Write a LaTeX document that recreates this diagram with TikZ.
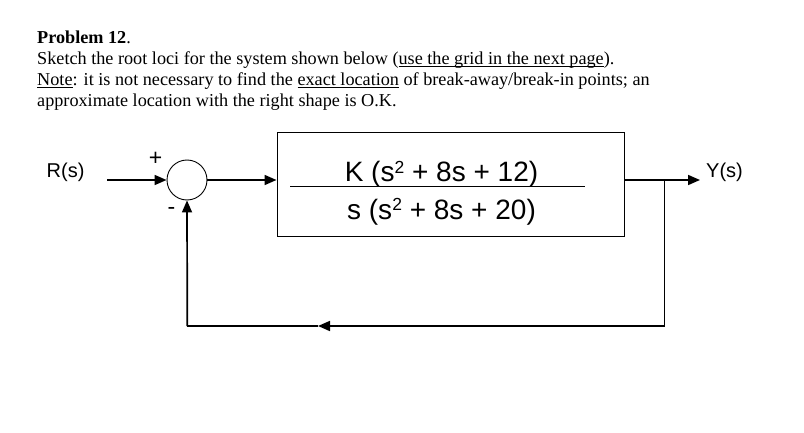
\documentclass[tikz,border=0pt]{standalone}
\usepackage{fontspec}
\setmainfont{Liberation Serif}
\newfontfamily\arialf{Liberation Sans}
\usetikzlibrary{arrows.meta}
\newsavebox{\ulbox}
\newcommand{\myul}[1]{\sbox{\ulbox}{#1}\rlap{\rule[-2.4pt]{\wd\ulbox}{0.9pt}}\usebox{\ulbox}}
\newcommand{\supt}{\raisebox{8.5pt}{\fontsize{17.5}{18}\selectfont 2}}
\begin{document}
\begin{tikzpicture}[x=1pt,y=-1pt,
  txt/.style={anchor=base west,inner sep=0pt,font=\fontsize{18.2}{21}\selectfont},
  lbl/.style={inner sep=0pt,font=\arialf\fontsize{20}{24}\selectfont},
  sign/.style={inner sep=0pt,font=\arialf\fontsize{23}{24}\selectfont},
  frac/.style={anchor=base,inner sep=0pt,font=\arialf\fontsize{28}{32}\selectfont},
  conn/.style={line width=1.7pt,-{Triangle[length=12pt,width=10pt]}},
  thinconn/.style={line width=1.1pt},
  blockbox/.style={draw,line width=1pt,minimum width=347pt,minimum height=104pt,inner sep=0pt},
  sumc/.style={draw,circle,line width=0.9pt,minimum size=40pt,inner sep=0pt}]
\useasboundingbox (0,0) rectangle (804,433);
% text
\node[txt] (l1) at (37,43.5) {\textbf{Problem 12}.};
\node[txt] (l2) at (37,64.5) {Sketch the root loci for the system shown below (\myul{use the grid in the next page}).};
\node[txt] (l3) at (37,85.5) {\myul{Note}: it is not necessary to find the \myul{exact location} of break-away/break-in points; an};
\node[txt] (l4) at (37,106.5) {approximate location with the right shape is O.K.};
% block diagram
\node[sumc] (sum) at (187,180) {};
\node[blockbox] (G) at (450.5,185) {};
\node[frac] (num) at (441.5,182) {K (s\supt\ + 8s + 12)};
\node[frac] (den) at (441.5,219) {s (s\supt\ + 8s + 20)};
\coordinate (fl) at (290,186);
\coordinate (fr) at (585,186);
\draw[line width=0.9pt] (fl) -- (fr);
\node[lbl,anchor=base west] (R) at (46.5,177.5) {R(s)};
\node[lbl,anchor=base west] (Y) at (706,177.5) {Y(s)};
\node[sign] (plus) at (155.5,158.5) {+};
\node[sign] (minus) at (171.5,211) {-};
\coordinate (in) at (107,180);
\coordinate (out) at (700,180);
\coordinate (br) at (664.5,180);
\coordinate (brd) at (664.5,326);
\coordinate (fbtip) at (318,326);
\coordinate (bl) at (187.3,326);
\draw[conn] (in) -- (sum.west);
\draw[conn] (sum.east) -- (sum.east -| G.west);
\draw[conn] (out -| G.east) -- (out);
\draw[thinconn] (br) -- (brd);
\draw[conn] (brd) -- (fbtip);
\draw[thinconn] (fbtip) -- (bl);
\draw[conn] (bl) -- (sum.south);
\end{tikzpicture}
\end{document}
